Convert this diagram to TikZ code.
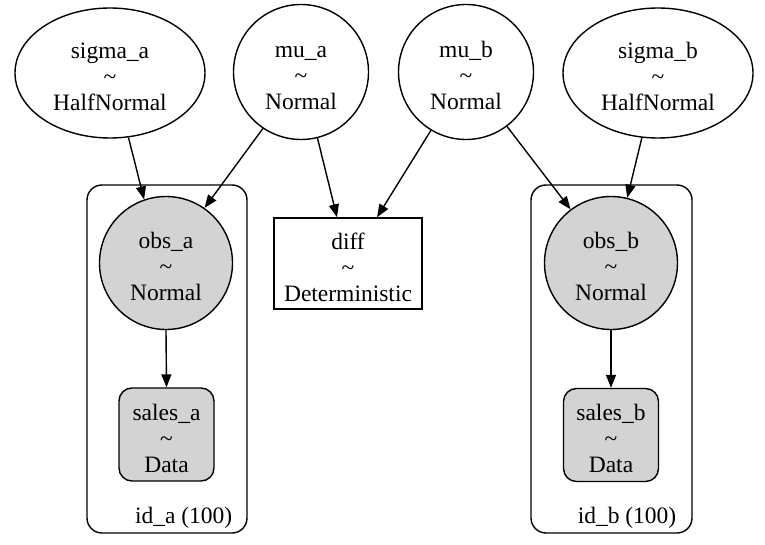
\documentclass[tikz,border=0pt]{standalone}
\usepackage{fontspec}
\setmainfont{Liberation Serif}
\newfontfamily\gvfont{Liberation Serif}
\newcommand{\gvtop}{\rule{0pt}{24pt}}
\usetikzlibrary{arrows.meta,shapes.geometric}
\begin{document}
\begin{tikzpicture}[x=1pt,y=-1pt,
  every node/.style={font=\gvfont\fontsize{23.5}{26}\selectfont, align=center, inner sep=0pt, line width=1.4pt},
  rv/.style={draw, ellipse, minimum width=190pt, minimum height=130pt},
  rvc/.style={draw, circle, minimum size=135pt},
  obsnode/.style={draw, circle, minimum size=133pt, fill=obsgray},
  datanode/.style={draw, rectangle, rounded corners=13pt, fill=obsgray, minimum width=95pt, minimum height=93pt},
  detnode/.style={draw, rectangle, minimum width=148pt, minimum height=91pt},
  plate/.style={draw, rectangle, rounded corners=15pt, minimum width=160pt, minimum height=348pt},
  platelabel/.style={anchor=base east},
  edge/.style={line width=1.4pt, -{Triangle[length=13pt,width=10pt]}}
]
\definecolor{obsgray}{HTML}{D3D3D3}
\useasboundingbox (0,0) rectangle (765,545);
\fill[white] (0,0) rectangle (765,545);
% plates
\node[plate] (plateA) at (167,359) {};
\node[plate, minimum width=161pt] (plateB) at (611.5,359) {};
\node[platelabel] (labA) at (233,523) {id\_a (100)};
\node[platelabel] (labB) at (677,523) {id\_b (100)};
% top nodes
\node[rv] (sigmaa) at (110,73) {\gvtop sigma\_a\\\textasciitilde\\HalfNormal};
\node[rvc] (mua) at (301,72) {\gvtop mu\_a\\\textasciitilde\\Normal};
\node[rvc] (mub) at (466,72) {\gvtop mu\_b\\\textasciitilde\\Normal};
\node[rv] (sigmab) at (658,73) {\gvtop sigma\_b\\\textasciitilde\\HalfNormal};
% middle
\node[obsnode] (obsa) at (166,263) {\gvtop obs\_a\\\textasciitilde\\Normal};
\node[detnode] (diff) at (348,263.5) {\gvtop diff\\\textasciitilde\\Deterministic};
\node[obsnode] (obsb) at (611,263) {\gvtop obs\_b\\\textasciitilde\\Normal};
% bottom
\node[datanode] (salesa) at (166.5,434.5) {\gvtop sales\_a\\\textasciitilde\\Data};
\node[datanode] (salesb) at (611,435) {\gvtop sales\_b\\\textasciitilde\\Data};
% edges
\draw[edge] (sigmaa.-74) -- (obsa.109);
\draw[edge] (mua.-124) -- (obsa.55);
\draw[edge] (mua.-76) -- ([xshift=-11pt]diff.north);
\draw[edge] (mub.-121) -- ([xshift=29pt]diff.north);
\draw[edge] (mub.-53) -- (obsb.127);
\draw[edge] (sigmab.-104) -- (obsb.76);
\draw[edge] (obsa.south) -- (salesa.north);
\draw[edge] (obsb.south) -- (salesb.north);
\end{tikzpicture}
\end{document}
